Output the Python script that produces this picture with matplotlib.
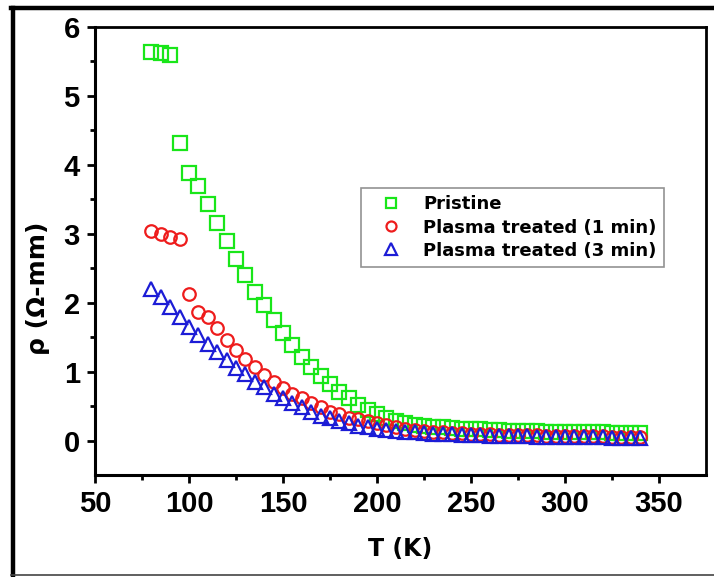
import numpy as np
import matplotlib
matplotlib.use('Agg')
import matplotlib.pyplot as plt
from matplotlib.lines import Line2D

plt.rcParams['font.family'] = ['Liberation Sans', 'DejaVu Sans']
plt.rcParams['font.weight'] = 'bold'

T = np.arange(80, 345, 5)

pristine = [
    5.64, 5.62, 5.59, 4.31, 3.88, 3.70, 3.43, 3.16, 2.90, 2.64,
    2.40, 2.16, 1.97, 1.75, 1.56, 1.38, 1.21, 1.07, 0.93, 0.82,
    0.70, 0.61, 0.51, 0.45, 0.38, 0.33, 0.29, 0.26, 0.23, 0.21,
    0.20, 0.19, 0.18, 0.17, 0.165, 0.16, 0.155, 0.15, 0.145, 0.14,
    0.14, 0.135, 0.13, 0.13, 0.125, 0.125, 0.12, 0.12, 0.12, 0.115,
    0.115, 0.11, 0.11
]
plasma_1min = [
    3.04, 3.00, 2.96, 2.93, 2.13, 1.86, 1.79, 1.63, 1.46, 1.31,
    1.18, 1.06, 0.95, 0.85, 0.76, 0.68, 0.61, 0.54, 0.48, 0.42,
    0.38, 0.33, 0.31, 0.28, 0.25, 0.22, 0.19, 0.17, 0.15, 0.14,
    0.13, 0.12, 0.11, 0.105, 0.10, 0.095, 0.09, 0.085, 0.08, 0.08,
    0.075, 0.075, 0.07, 0.07, 0.065, 0.065, 0.06, 0.06, 0.06, 0.055,
    0.055, 0.05, 0.05
]
plasma_3min = [
    2.20, 2.08, 1.94, 1.79, 1.65, 1.53, 1.40, 1.28, 1.17, 1.05,
    0.96, 0.85, 0.77, 0.68, 0.61, 0.54, 0.48, 0.41, 0.36, 0.32,
    0.28, 0.25, 0.21, 0.19, 0.17, 0.15, 0.14, 0.13, 0.12, 0.11,
    0.10, 0.095, 0.09, 0.085, 0.08, 0.075, 0.07, 0.065, 0.065, 0.06,
    0.06, 0.055, 0.055, 0.05, 0.05, 0.05, 0.045, 0.045, 0.045, 0.04,
    0.04, 0.04, 0.04
]
labels = ['Pristine', 'Plasma treated (1 min)', 'Plasma treated (3 min)']

fig = plt.figure(figsize=(7.14, 5.77), dpi=100)
ax = fig.add_axes([0.1331, 0.1768, 0.8557, 0.7764])

ax.plot(T, pristine, 's', ms=9.5, mfc='none', mec='#19e619', mew=1.6, label=labels[0])
ax.plot(T, plasma_1min, 'o', ms=9, mfc='none', mec='#ee1c1c', mew=1.6, label=labels[1])
ax.plot(T, plasma_3min, '^', ms=10.5, mfc='none', mec='#1c1cd6', mew=1.6, label=labels[2])

ax.set_xlim(50, 375)
ax.set_ylim(-0.5, 6)
ax.set_xticks([50, 100, 150, 200, 250, 300, 350])
ax.set_xticks(np.arange(75, 375, 50), minor=True)
ax.set_yticks([0, 1, 2, 3, 4, 5, 6])
ax.set_yticks(np.arange(0.5, 6, 1), minor=True)
ax.tick_params(which='major', direction='out', length=6, width=2, labelsize=21, pad=5)
ax.tick_params(which='minor', direction='out', length=3.5, width=2)
ax.tick_params(top=False, right=False)
for lbl in ax.get_xticklabels() + ax.get_yticklabels():
    lbl.set_fontweight('bold')
for side in ['left', 'bottom']:
    ax.spines[side].set_linewidth(2.2)
for side in ['top', 'right']:
    ax.spines[side].set_linewidth(2.0)

wide = ['DejaVu Sans']
ax.set_xlabel('T (K)', fontsize=17, fontweight='bold', family=wide)
ax.set_ylabel('ρ (Ω-mm)', fontsize=18, fontweight='bold', family=wide)
ax.xaxis.set_label_coords(0.5, -0.138)
ax.yaxis.set_label_coords(-0.074, 0.417)

leg = ax.legend(loc='upper left', bbox_to_anchor=(0.435, 0.64), borderaxespad=0,
                prop={'family': wide, 'weight': 'bold', 'size': 13},
                frameon=True, fancybox=False, markerscale=0.8, handletextpad=0.55,
                borderpad=0.4, labelspacing=0.28, handlelength=2.5)
leg.get_frame().set_edgecolor('#777777')
leg.get_frame().set_linewidth(1.2)

# outer frame around the picture
fig.add_artist(Line2D([12.5 / 714, 12.5 / 714], [1 - 8 / 577, 1 - 575 / 577], color='black', lw=3.2))
fig.add_artist(Line2D([11 / 714, 1.0], [1 - 8 / 577, 1 - 8 / 577], color='black', lw=3.2))
fig.add_artist(Line2D([11 / 714, 1.0], [1 - 575 / 577, 1 - 575 / 577], color='#444444', lw=1.2))

fig.savefig('out.png', dpi=100)
